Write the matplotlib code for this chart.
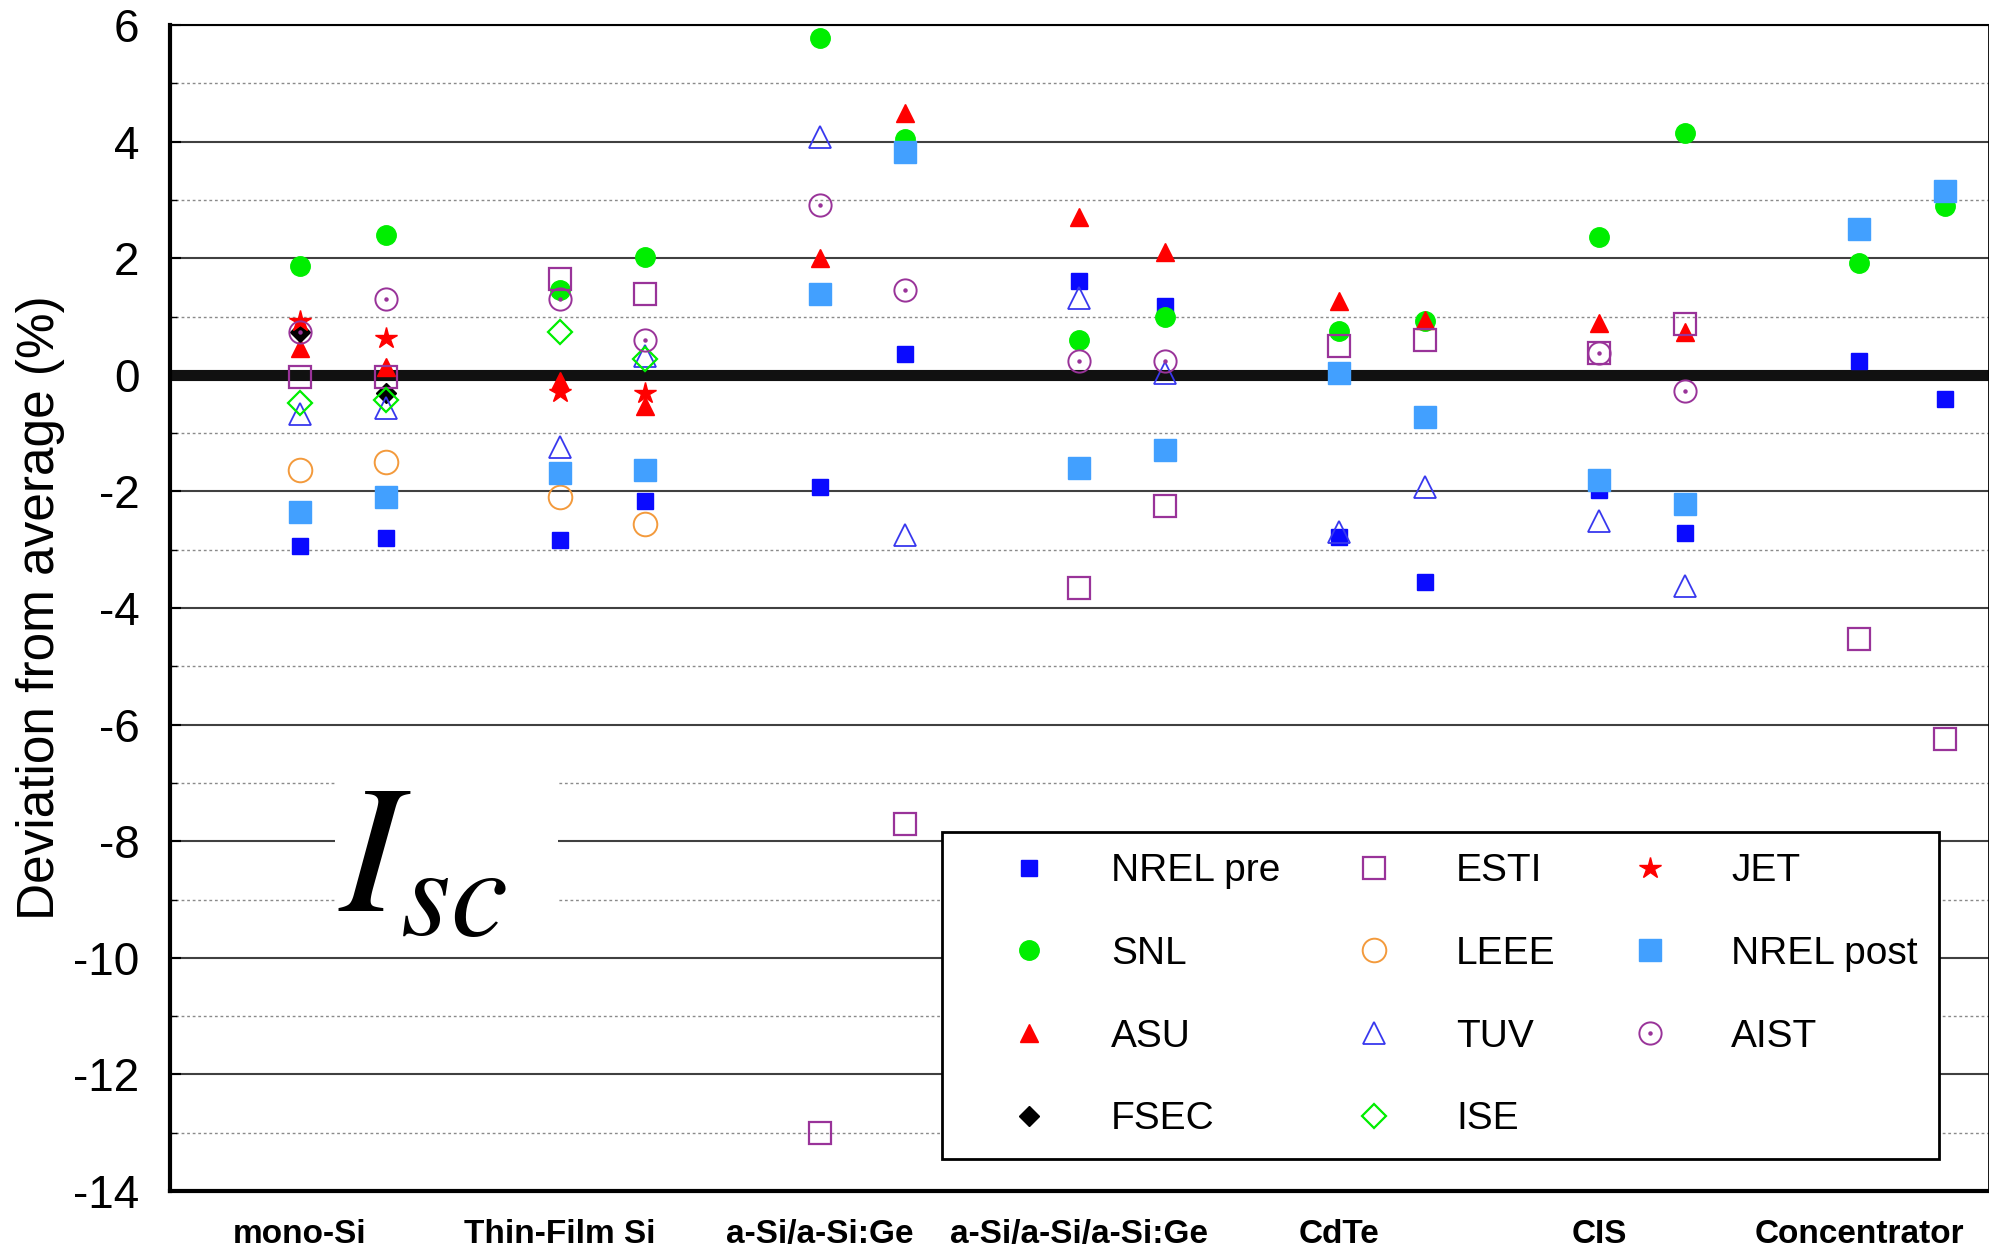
import numpy as np
import matplotlib
matplotlib.use("Agg")
import matplotlib.pyplot as plt
from matplotlib.ticker import MultipleLocator
from matplotlib.patches import Rectangle

plt.rcParams.update({
    "font.family": ["Liberation Sans", "DejaVu Sans"],
    "axes.unicode_minus": False,
})

CATEGORIES = ["mono-Si", "Thin-Film Si", "a-Si/a-Si:Ge", "a-Si/a-Si/a-Si:Ge",
              "CdTe", "CIS", "Concentrator"]
# Isc deviation from average (%), two modules per technology (14 columns), nan = not measured
nan = np.nan
NREL_PRE = [-2.94, -2.79, -2.83, -2.17, -1.93, 0.35, 1.61, 1.18, -2.78, -3.55, -1.97, -2.71, 0.24, -0.42]
SNL = [1.86, 2.40, 1.46, 2.02, 5.77, 4.05, 0.60, 1.00, 0.76, 0.92, 2.37, 4.15, 1.91, 2.90]
ASU = [0.46, 0.13, -0.11, -0.53, 2.01, 4.49, 2.71, 2.11, 1.26, 0.94, 0.89, 0.74, nan, nan]
FSEC = [0.73, -0.31, nan, nan, nan, nan, nan, nan, nan, nan, nan, nan, nan, nan]
ESTI = [-0.03, -0.03, 1.65, 1.39, -13.0, -7.70, -3.66, -2.25, 0.49, 0.59, 0.38, 0.88, -4.53, -6.24]
LEEE = [-1.63, -1.49, -2.09, -2.55, nan, nan, nan, nan, nan, nan, nan, nan, nan, nan]
TUV = [-0.67, -0.57, -1.23, 0.33, 4.08, -2.75, 1.31, 0.03, -2.70, -1.93, -2.50, -3.62, nan, nan]
ISE = [-0.49, -0.43, 0.73, 0.27, nan, nan, nan, nan, nan, nan, nan, nan, nan, nan]
JET = [0.92, 0.63, -0.29, -0.31, nan, nan, nan, nan, nan, nan, nan, nan, nan, nan]
NREL_POST = [-2.35, -2.09, -1.69, -1.63, 1.38, 3.82, -1.60, -1.29, 0.03, -0.73, -1.81, -2.21, 2.51, 3.16]
AIST = [0.74, 1.30, 1.30, 0.60, 2.92, 1.46, 0.24, 0.24, nan, nan, 0.38, -0.28, nan, nan]

PURPLE = "#993399"
LABS = [
    ("NREL pre", NREL_PRE, dict(marker="s", ms=12, color="#0a0aff")),
    ("SNL", SNL, dict(marker="o", ms=14, color="#00ee00")),
    ("ASU", ASU, dict(marker="^", ms=13, color="#ff0000")),
    ("FSEC", FSEC, dict(marker="D", ms=10, color="black")),
    ("ESTI", ESTI, dict(marker="s", ms=16, mfc="none", mec=PURPLE, mew=1.6)),
    ("LEEE", LEEE, dict(marker="o", ms=17, mfc="none", mec="#f39a3c", mew=1.4)),
    ("TUV", TUV, dict(marker="^", ms=16, mfc="none", mec="#3838ee", mew=1.3)),
    ("ISE", ISE, dict(marker="D", ms=12, mfc="none", mec="#00ee00", mew=1.6)),
    ("JET", JET, dict(marker="*", ms=16, color="#ff0000")),
    ("NREL post", NREL_POST, dict(marker="s", ms=16, color="#42a0ff")),
]

x = np.array([[i, i + 0.33] for i in range(len(CATEGORIES))]).ravel()

fig = plt.figure(figsize=(19.9, 12.46), dpi=100)
ax = fig.add_axes([0.0854, 0.0441, 0.9141, 0.9358])

handles, labels = [], []
for name, vals, st in LABS:
    h, = ax.plot(x, vals, ls="none", zorder=3, **st)
    handles.append(h); labels.append(name)
# AIST: open circle with a dot in the middle
h1, = ax.plot(x, AIST, ls="none", marker="o", ms=16, mfc="none", mec=PURPLE, mew=1.4, zorder=3)
h2, = ax.plot(x, AIST, ls="none", marker="o", ms=2.2, color=PURPLE, zorder=3)
handles.append((h1, h2)); labels.append("AIST")

ax.axhline(0, color="#111111", lw=8, zorder=2)

ax.set_xlim(-0.5, 6.5)
ax.set_ylim(-14, 6)
ax.yaxis.set_major_locator(MultipleLocator(2))
ax.yaxis.set_minor_locator(MultipleLocator(1))
ax.grid(True, axis="y", which="major", color="#404040", lw=1.5)
ax.grid(True, axis="y", which="minor", color="#8a8a8a", lw=1.0, ls=(0, (2, 2)))
ax.set_axisbelow(True)

ax.set_xticks(range(len(CATEGORIES)))
ax.set_xticklabels(CATEGORIES, fontsize=24, fontweight="bold")
ax.tick_params(axis="x", length=0, pad=20)
ax.tick_params(axis="y", which="major", direction="in", length=8, width=1.5, labelsize=33, pad=22)
ax.tick_params(axis="y", which="minor", direction="in", length=5, width=1.0)
ax.set_ylabel("Deviation from average (%)", fontsize=37, labelpad=6)

for side, lw in (("left", 3), ("bottom", 3), ("top", 1.5), ("right", 2)):
    ax.spines[side].set_linewidth(lw)

# white patch behind the Isc label hides the gridlines there
ax.add_patch(Rectangle((0.135, -9.6), 0.86, 3.0, fc="white", ec="none", zorder=1))
ax.text(0.471, -8.4, r"$I_{sc}$", fontsize=132, math_fontfamily="stix",
        ha="center", va="center", zorder=4)

leg = ax.legend(handles, labels, ncol=3, loc="lower left", bbox_to_anchor=(0.4242, 0.0278),
                borderaxespad=0, fontsize=28, frameon=True, fancybox=False, framealpha=1,
                edgecolor="black", handlelength=3.4, handletextpad=0.4, columnspacing=0.72,
                labelspacing=1.2, borderpad=0.55, markerscale=1.0)
leg.get_frame().set_linewidth(2)
leg.set_zorder(5)

fig.savefig("out.png", dpi=100)
